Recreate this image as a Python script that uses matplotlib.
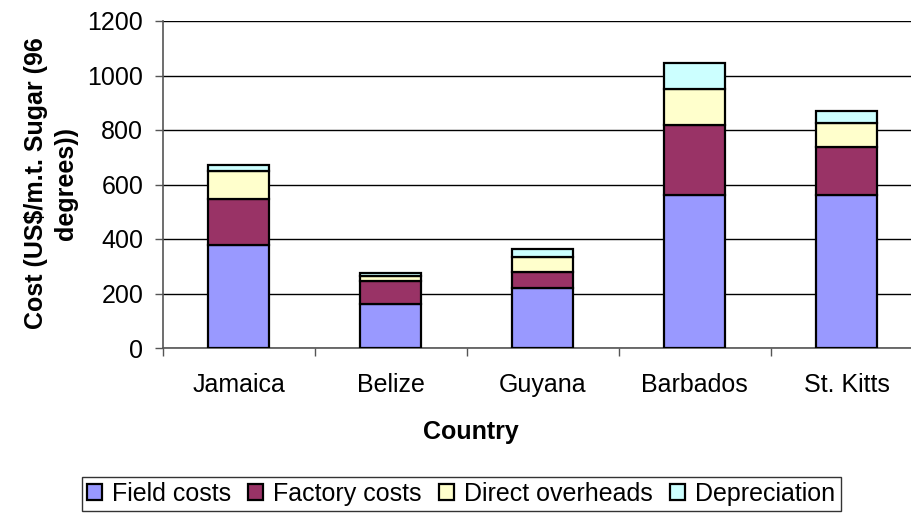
import numpy as np
import matplotlib.pyplot as plt
from matplotlib.ticker import FixedLocator

plt.rcParams['font.family'] = ['Liberation Sans', 'DejaVu Sans']

countries = ['Jamaica', 'Belize', 'Guyana', 'Barbados', 'St. Kitts']
field_costs = [377, 163, 221, 560, 560]
factory_costs = [169, 82, 59, 257, 178]
direct_overheads = [102, 19, 53, 132, 87]
depreciation = [25, 10, 29, 98, 45]

series = [('Field costs', field_costs, '#9999FF'),
          ('Factory costs', factory_costs, '#993366'),
          ('Direct overheads', direct_overheads, '#FFFFCC'),
          ('Depreciation', depreciation, '#CCFFFF')]

FS = 18

fig = plt.figure(figsize=(9.12, 5.2), dpi=100)
# plot area runs a little past the right edge of the figure
ax = fig.add_axes([162.7 / 912, 1 - 348 / 520, 760 / 912, 327 / 520])

x = np.arange(len(countries))
bottom = np.zeros(len(countries))
for name, vals, col in series:
    ax.bar(x, vals, width=0.4, bottom=bottom, color=col, edgecolor='black',
           linewidth=1.6, label=name, zorder=3)
    bottom += np.array(vals)

ax.set_xlim(-0.5, len(countries) - 0.5)
ax.set_ylim(0, 1200)
ax.set_yticks(range(0, 1201, 200))
ax.yaxis.grid(True, color='black', linewidth=1.0, zorder=0)
ax.set_axisbelow(True)

ax.set_xticks(x)
ax.set_xticklabels(countries, fontsize=FS)
ax.xaxis.set_minor_locator(FixedLocator(np.arange(-0.5, len(countries), 1.0)))
ax.tick_params(axis='x', which='major', length=0, pad=18)
ax.tick_params(axis='x', which='minor', length=6, width=1, color='#555555', direction='out')
ax.tick_params(axis='y', length=6, width=1, color='#555555', direction='out',
               pad=8, labelsize=FS)

for s in ['top', 'right']:
    ax.spines[s].set_visible(False)
for s in ['left', 'bottom']:
    ax.spines[s].set_color('#555555')
    ax.spines[s].set_linewidth(1.2)

fig.text(471 / 912, 1 - 432 / 520, 'Country', ha='center', va='center',
         fontsize=FS, fontweight='bold')
fig.text(51 / 912, 1 - 183 / 520, 'Cost (US\\$/m.t. Sugar (96\ndegrees))',
         rotation=90, ha='center', va='center', multialignment='center',
         fontsize=FS, fontweight='bold', linespacing=1.3)

leg = fig.legend(loc='center', bbox_to_anchor=(461 / 912, 1 - 494 / 520), ncol=4,
                 fontsize=FS, frameon=True, fancybox=False, handlelength=0.6,
                 handleheight=0.6, handletextpad=0.4, columnspacing=0.7,
                 borderpad=0.2, borderaxespad=0, edgecolor='black')
leg.get_frame().set_linewidth(1.0)

fig.savefig('out.png', dpi=100)
